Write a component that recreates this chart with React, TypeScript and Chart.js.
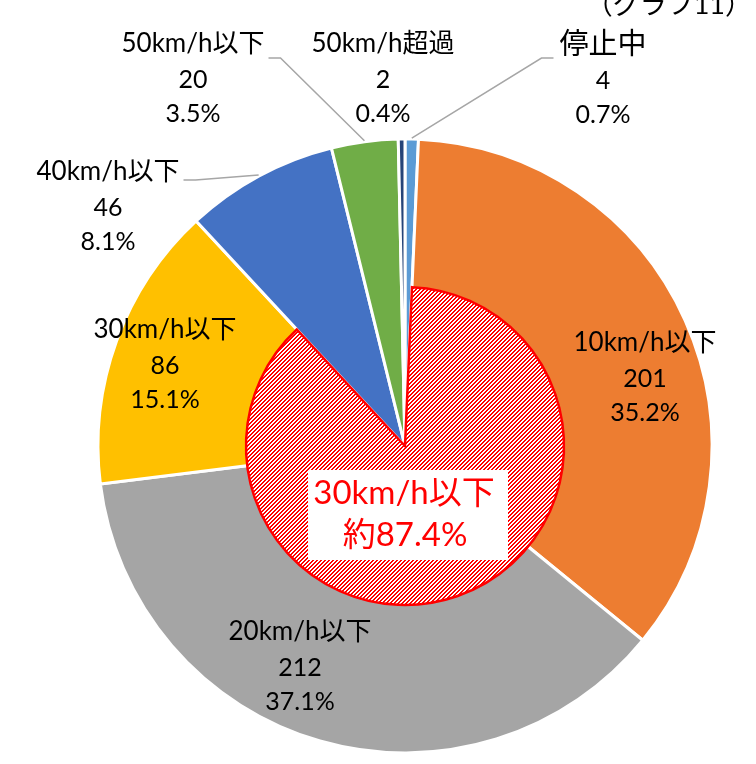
import React, { useEffect, useRef } from "react";
import { Chart, registerables } from "chart.js";

Chart.register(...registerables);

// ---- data ----
const categories = ["停止中", "10km/h以下", "20km/h以下", "30km/h以下", "40km/h以下", "50km/h以下", "50km/h超過"];
const counts = [4, 201, 212, 86, 46, 20, 2];
const sliceColors = ["#5B9BD5", "#ED7D31", "#A5A5A5", "#FFC000", "#4472C4", "#70AD47", "#264478"];
const highlightIndices = [1, 2, 3];
const highlightTitle = "30km/h以下";
const highlightPrefix = "約";
const chartTag = "（グラフ11）";

// ---- layout ----
type LabelPos = { x: number; y: number; nameSize: number; leader: "none" | "left" | "right"; leaderDy: number };
const labelPositions: LabelPos[] = [
  { x: 603, y: 45, nameSize: 29, leader: "left", leaderDy: 13 },
  { x: 645, y: 343, nameSize: 26, leader: "none", leaderDy: 0 },
  { x: 300, y: 632, nameSize: 26, leader: "none", leaderDy: 0 },
  { x: 165, y: 330, nameSize: 26, leader: "none", leaderDy: 0 },
  { x: 108, y: 172, nameSize: 26, leader: "right", leaderDy: 8 },
  { x: 193, y: 44, nameSize: 26, leader: "right", leaderDy: 14 },
  { x: 383, y: 44, nameSize: 26, leader: "none", leaderDy: 0 },
];
const lineGaps = [36, 34];
const FONT = 'Lato, "Noto Sans CJK JP", sans-serif';
const innerRatio = 159 / 307;

function makePattern(main: CanvasRenderingContext2D) {
  const n = 4;
  const c = document.createElement("canvas");
  c.width = n;
  c.height = n;
  const g = c.getContext("2d")!;
  g.fillStyle = "#FFFFFF";
  g.fillRect(0, 0, n, n);
  g.fillStyle = "#FF0000";
  for (let y = 0; y < n; y++)
    for (let x = 0; x < n; x++) if ((x + y) % n < 2) g.fillRect(x, y, 1, 1);
  return main.createPattern(c, "repeat")!;
}

const total = counts.reduce((a, b) => a + b, 0);
const pct = (v: number) => ((v / total) * 100).toFixed(1) + "%";

const overlayPlugin = {
  id: "overlay",
  afterDatasetsDraw(chart: any) {
    const ctx: CanvasRenderingContext2D = chart.ctx;
    const arcs = chart.getDatasetMeta(0).data as any[];
    const first = arcs[highlightIndices[0]];
    const last = arcs[highlightIndices[highlightIndices.length - 1]];
    const cx = first.x;
    const cy = first.y;
    const R = first.outerRadius;
    const r = R * innerRatio;

    ctx.save();
    // hatched sector
    ctx.beginPath();
    ctx.moveTo(cx, cy);
    ctx.arc(cx, cy, r, first.startAngle, last.endAngle);
    ctx.closePath();
    ctx.fillStyle = makePattern(ctx);
    ctx.fill();
    ctx.strokeStyle = "#FF0000";
    ctx.lineWidth = 2.5;
    ctx.stroke();

    // white box + red text
    const hlSum = highlightIndices.reduce((a, i) => a + counts[i], 0);
    ctx.fillStyle = "#FFFFFF";
    ctx.fillRect(cx - 97, cy + 24, 200, 90);
    ctx.fillStyle = "#FF0000";
    ctx.textAlign = "center";
    ctx.textBaseline = "middle";
    ctx.font = `33px ${FONT}`;
    ctx.fillText(highlightTitle, cx - 1, cy + 47);
    ctx.fillText(highlightPrefix + ((hlSum / total) * 100).toFixed(1) + "%", cx, cy + 89);

    // data labels
    ctx.fillStyle = "#000000";
    labelPositions.forEach((p, i) => {
      ctx.font = `${p.nameSize}px ${FONT}`;
      const w = ctx.measureText(categories[i]).width;
      ctx.fillText(categories[i], p.x, p.y);
      ctx.font = `25px ${FONT}`;
      ctx.fillText(String(counts[i]), p.x, p.y + lineGaps[0]);
      ctx.fillText(pct(counts[i]), p.x, p.y + lineGaps[0] + lineGaps[1]);

      if (p.leader !== "none") {
        const a = arcs[i];
        const mid = (a.startAngle + a.endAngle) / 2;
        const ex = cx + Math.cos(mid) * (R + 1);
        const ey = cy + Math.sin(mid) * (R + 1);
        const ly = p.y + p.leaderDy;
        const sx = p.leader === "right" ? p.x + w / 2 + 4 : p.x - w / 2 - 6;
        const kx = p.leader === "right" ? sx + 12 : sx - 12;
        ctx.beginPath();
        ctx.moveTo(sx, ly);
        ctx.lineTo(kx, ly);
        ctx.lineTo(ex, ey);
        ctx.strokeStyle = "#A6A6A6";
        ctx.lineWidth = 1.5;
        ctx.stroke();
      }
    });

    // tag (cut off at top)
    ctx.font = `27px ${FONT}`;
    ctx.textAlign = "right";
    ctx.textBaseline = "alphabetic";
    ctx.fillText(chartTag, 752, 14);
    ctx.restore();
  },
};

export default function App() {
  const ref = useRef<HTMLCanvasElement>(null);
  useEffect(() => {
    document.body.style.margin = "0";
    const canvas = ref.current!;
    const chart = new Chart(canvas, {
      type: "pie",
      data: {
        labels: categories,
        datasets: [
          {
            data: counts,
            backgroundColor: sliceColors,
            borderColor: "#FFFFFF",
            borderWidth: 3,
            radius: 307,
          } as any,
        ],
      },
      options: {
        animation: false,
        responsive: false,
        events: [],
        layout: { padding: { left: 74, right: 20, top: 130, bottom: 2 } },
        plugins: { legend: { display: false }, tooltip: { enabled: false } },
      } as any,
      plugins: [overlayPlugin],
    });
    return () => chart.destroy();
  }, []);
  return (
    <div style={{ width: 756, height: 764 }}>
      <canvas ref={ref} width={756} height={764} style={{ display: "block" }} />
    </div>
  );
}
